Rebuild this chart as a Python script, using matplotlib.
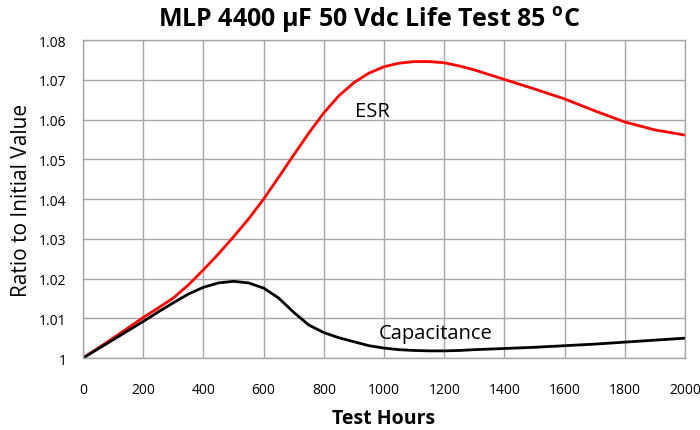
import matplotlib
matplotlib.use("Agg")
import matplotlib.pyplot as plt

plt.rcParams['font.family'] = ['Open Sans', 'DejaVu Sans']
plt.rcParams['mathtext.fontset'] = 'custom'
plt.rcParams['mathtext.bf'] = 'Open Sans:bold'
plt.rcParams['mathtext.rm'] = 'Open Sans'

# test hours and ratio readings
hours = [0, 50, 100, 150, 200, 250, 300, 350, 400, 450, 500, 550, 600, 650,
         700, 750, 800, 850, 900, 950, 1000, 1050, 1100, 1150, 1200, 1250,
         1300, 1400, 1500, 1600, 1700, 1800, 1900, 2000]
esr = [1.0, 1.0025, 1.005, 1.0076, 1.0102, 1.0126, 1.0151, 1.0184, 1.0222,
       1.0262, 1.0305, 1.035, 1.040, 1.0455, 1.0511, 1.0566, 1.0617, 1.0660,
       1.0693, 1.0717, 1.0733, 1.0742, 1.0746, 1.0746, 1.0743, 1.0735,
       1.0725, 1.0701, 1.0677, 1.0652, 1.0622, 1.0594, 1.0574, 1.0561]
cap = [1.0, 1.0023, 1.0046, 1.0069, 1.0092, 1.0116, 1.0139, 1.0161, 1.0178,
       1.0189, 1.0193, 1.0189, 1.0176, 1.0151, 1.0115, 1.0083, 1.0064,
       1.0051, 1.0041, 1.0031, 1.0025, 1.0021, 1.0019, 1.0018, 1.0018,
       1.0019, 1.0021, 1.0024, 1.0027, 1.0031, 1.0035, 1.0040, 1.0045, 1.0050]

xticks = list(range(0, 2001, 200))
yticks = [1.0, 1.01, 1.02, 1.03, 1.04, 1.05, 1.06, 1.07, 1.08]
ylabels = ['1', '1.01', '1.02', '1.03', '1.04', '1.05', '1.06', '1.07', '1.08']

fig = plt.figure(figsize=(7, 4.31), dpi=100)
ax = fig.add_axes([0.1186, 0.167, 0.86, 0.7376])

ax.plot(hours, esr, color='#ff0000', lw=2, solid_capstyle='round',
        solid_joinstyle='round')
ax.plot(hours, cap, color='black', lw=2, solid_capstyle='round',
        solid_joinstyle='round')

ax.set_xlim(0, 2000)
ax.set_ylim(1.0, 1.08)
ax.set_xticks(xticks)
ax.set_yticks(yticks)
ax.set_yticklabels(ylabels)
ax.tick_params(length=0, labelsize=10)
ax.tick_params(axis='x', pad=17)
ax.tick_params(axis='y', pad=12)
ax.grid(True, color='#a6a6a6', lw=1)
for s in ax.spines.values():
    s.set_color('#a6a6a6')
    s.set_linewidth(1)

ax.text(960, 1.0621, 'ESR', fontsize=14.5, ha='center', va='center')
ax.text(1173, 1.0063, 'Capacitance', fontsize=14.5, ha='center', va='center')

ax.set_xlabel('Test Hours', fontsize=14, fontweight='bold', labelpad=8)
ax.set_ylabel('Ratio to Initial Value', fontsize=15, labelpad=5)
fig.text(0.528, 0.953, r'MLP 4400 µF 50 Vdc Life Test 85 $^{\mathbf{o}}$C',
         fontsize=18, fontweight='bold', ha='center', va='center')

fig.savefig('out.png', dpi=100)
